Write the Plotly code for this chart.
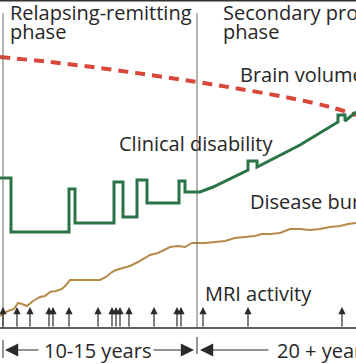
import plotly.graph_objects as go

# ---- data (in picture units) ----
phase_x = [3, 197]
phase_top, phase_bottom = 13, 328

brain_x = [0, 50, 100, 150, 197, 240, 290, 330, 356]
brain_y = [57, 62, 68, 75, 82, 89, 98, 107, 115]

dis_x = [0, 11, 11, 69, 69, 75, 75, 114, 114, 123, 123, 137, 137, 147, 147, 179, 179, 185, 185, 200,
         213, 233, 248, 248, 257, 257, 300, 338, 338, 345, 345, 356]
dis_y = [178, 178, 232, 232, 189, 189, 223, 223, 182, 182, 217, 217, 180, 180, 203, 203, 181, 181, 192, 192,
         187, 177, 170, 161, 161, 167, 145, 122, 115, 115, 121, 112]

bur_x = [0, 8, 14, 18, 22, 27, 33, 40, 45, 50, 56, 62, 66, 70, 80, 90, 100, 106, 112, 116, 122, 130, 138,
         145, 150, 158, 165, 170, 178, 185, 192, 197, 205, 215, 225, 235, 245, 255, 262, 270, 280, 290,
         300, 310, 320, 330, 340, 348, 356]
bur_y = [316, 311, 309, 303, 304, 306, 301, 297, 296, 292, 291, 289, 285, 280, 280, 280, 280, 277, 272, 270,
         268, 266, 262, 258, 255, 253, 249, 247, 246, 247, 243, 243, 243, 242, 241, 238, 237, 236, 234, 234,
         233, 229, 229, 230, 229, 227, 226, 224, 223]

mri_x = [3, 17, 30, 49, 53, 69, 98, 112, 116, 120, 129, 154, 177, 181, 203, 248, 342]
mri_base = 328
mri_tip = 307

labels = [
    ("Relapsing-remitting", 8, 12),
    ("phase", 8, 31),
    ("Secondary progressive", 221, 12),
    ("phase", 221, 31),
    ("Brain volume", 238, 74),
    ("Clinical disability", 117, 143),
    ("Disease burden", 248, 201),
    ("MRI activity", 203, 293),
    ("10-15 years", 42, 350),
    ("20 + years", 275, 350),
]

TXT = "#262626"
FONT = "Open Sans"

fig = go.Figure()

# brain volume (red dashed)
fig.add_trace(go.Scatter(x=brain_x, y=brain_y, mode="lines",
                         line=dict(color="#d9473a", width=4, dash="10px,7px", shape="spline"),
                         hoverinfo="skip"))
# disease burden (brown)
fig.add_trace(go.Scatter(x=bur_x, y=bur_y, mode="lines",
                         line=dict(color="#b58a48", width=2),
                         hoverinfo="skip"))
# clinical disability (green)
fig.add_trace(go.Scatter(x=dis_x, y=dis_y, mode="lines",
                         line=dict(color="#2b7447", width=3),
                         hoverinfo="skip"))

shapes = []
# top border
shapes.append(dict(type="line", xref="x", yref="y", x0=0, x1=356, y0=0.5, y1=0.5,
                   line=dict(color="#333333", width=2)))
# phase lines
for px in phase_x:
    shapes.append(dict(type="line", xref="x", yref="y", x0=px, x1=px, y0=phase_top, y1=phase_bottom,
                       line=dict(color="#6a6a58", width=1)))
# MRI baseline
shapes.append(dict(type="line", xref="x", yref="y", x0=0, x1=356, y0=mri_base, y1=mri_base,
                   line=dict(color="#2a2a2a", width=1.5)))
# bottom ticks
shapes.append(dict(type="line", xref="x", yref="y", x0=3, x1=3, y0=340, y1=358,
                   line=dict(color="#2a2a2a", width=1)))
shapes.append(dict(type="line", xref="x", yref="y", x0=197, x1=197, y0=337, y1=354,
                   line=dict(color="#2a2a2a", width=1)))

annotations = []
for mx in mri_x:
    annotations.append(dict(x=mx, y=mri_tip, ax=mx, ay=mri_base, xref="x", yref="y",
                            axref="x", ayref="y", showarrow=True, arrowhead=2, arrowsize=1.2,
                            arrowwidth=1.2, arrowcolor="#2a2a2a", text=""))
# duration arrows
for (x0, x1) in [(40, 5), (152, 194), (270, 200)]:
    annotations.append(dict(x=x1, y=350, ax=x0, ay=350, xref="x", yref="y",
                            axref="x", ayref="y", showarrow=True, arrowhead=2, arrowsize=2.2,
                            arrowwidth=1.2, arrowcolor="#2a2a2a", text=""))

for (t, x, y) in labels:
    annotations.append(dict(text=t, x=x, y=y, xref="x", yref="y", xanchor="left", yanchor="middle",
                            showarrow=False, font=dict(family=FONT, size=20, color=TXT)))

fig.update_layout(
    width=356, height=364,
    margin=dict(l=0, r=0, t=0, b=0),
    paper_bgcolor="white", plot_bgcolor="white",
    showlegend=False,
    xaxis=dict(range=[0, 356], visible=False, fixedrange=True),
    yaxis=dict(range=[364, 0], visible=False, fixedrange=True),
    shapes=shapes, annotations=annotations,
)

fig.write_html("out.html", config={"displayModeBar": False},
               post_script="document.body.style.margin='0';document.body.style.overflow='hidden';")
